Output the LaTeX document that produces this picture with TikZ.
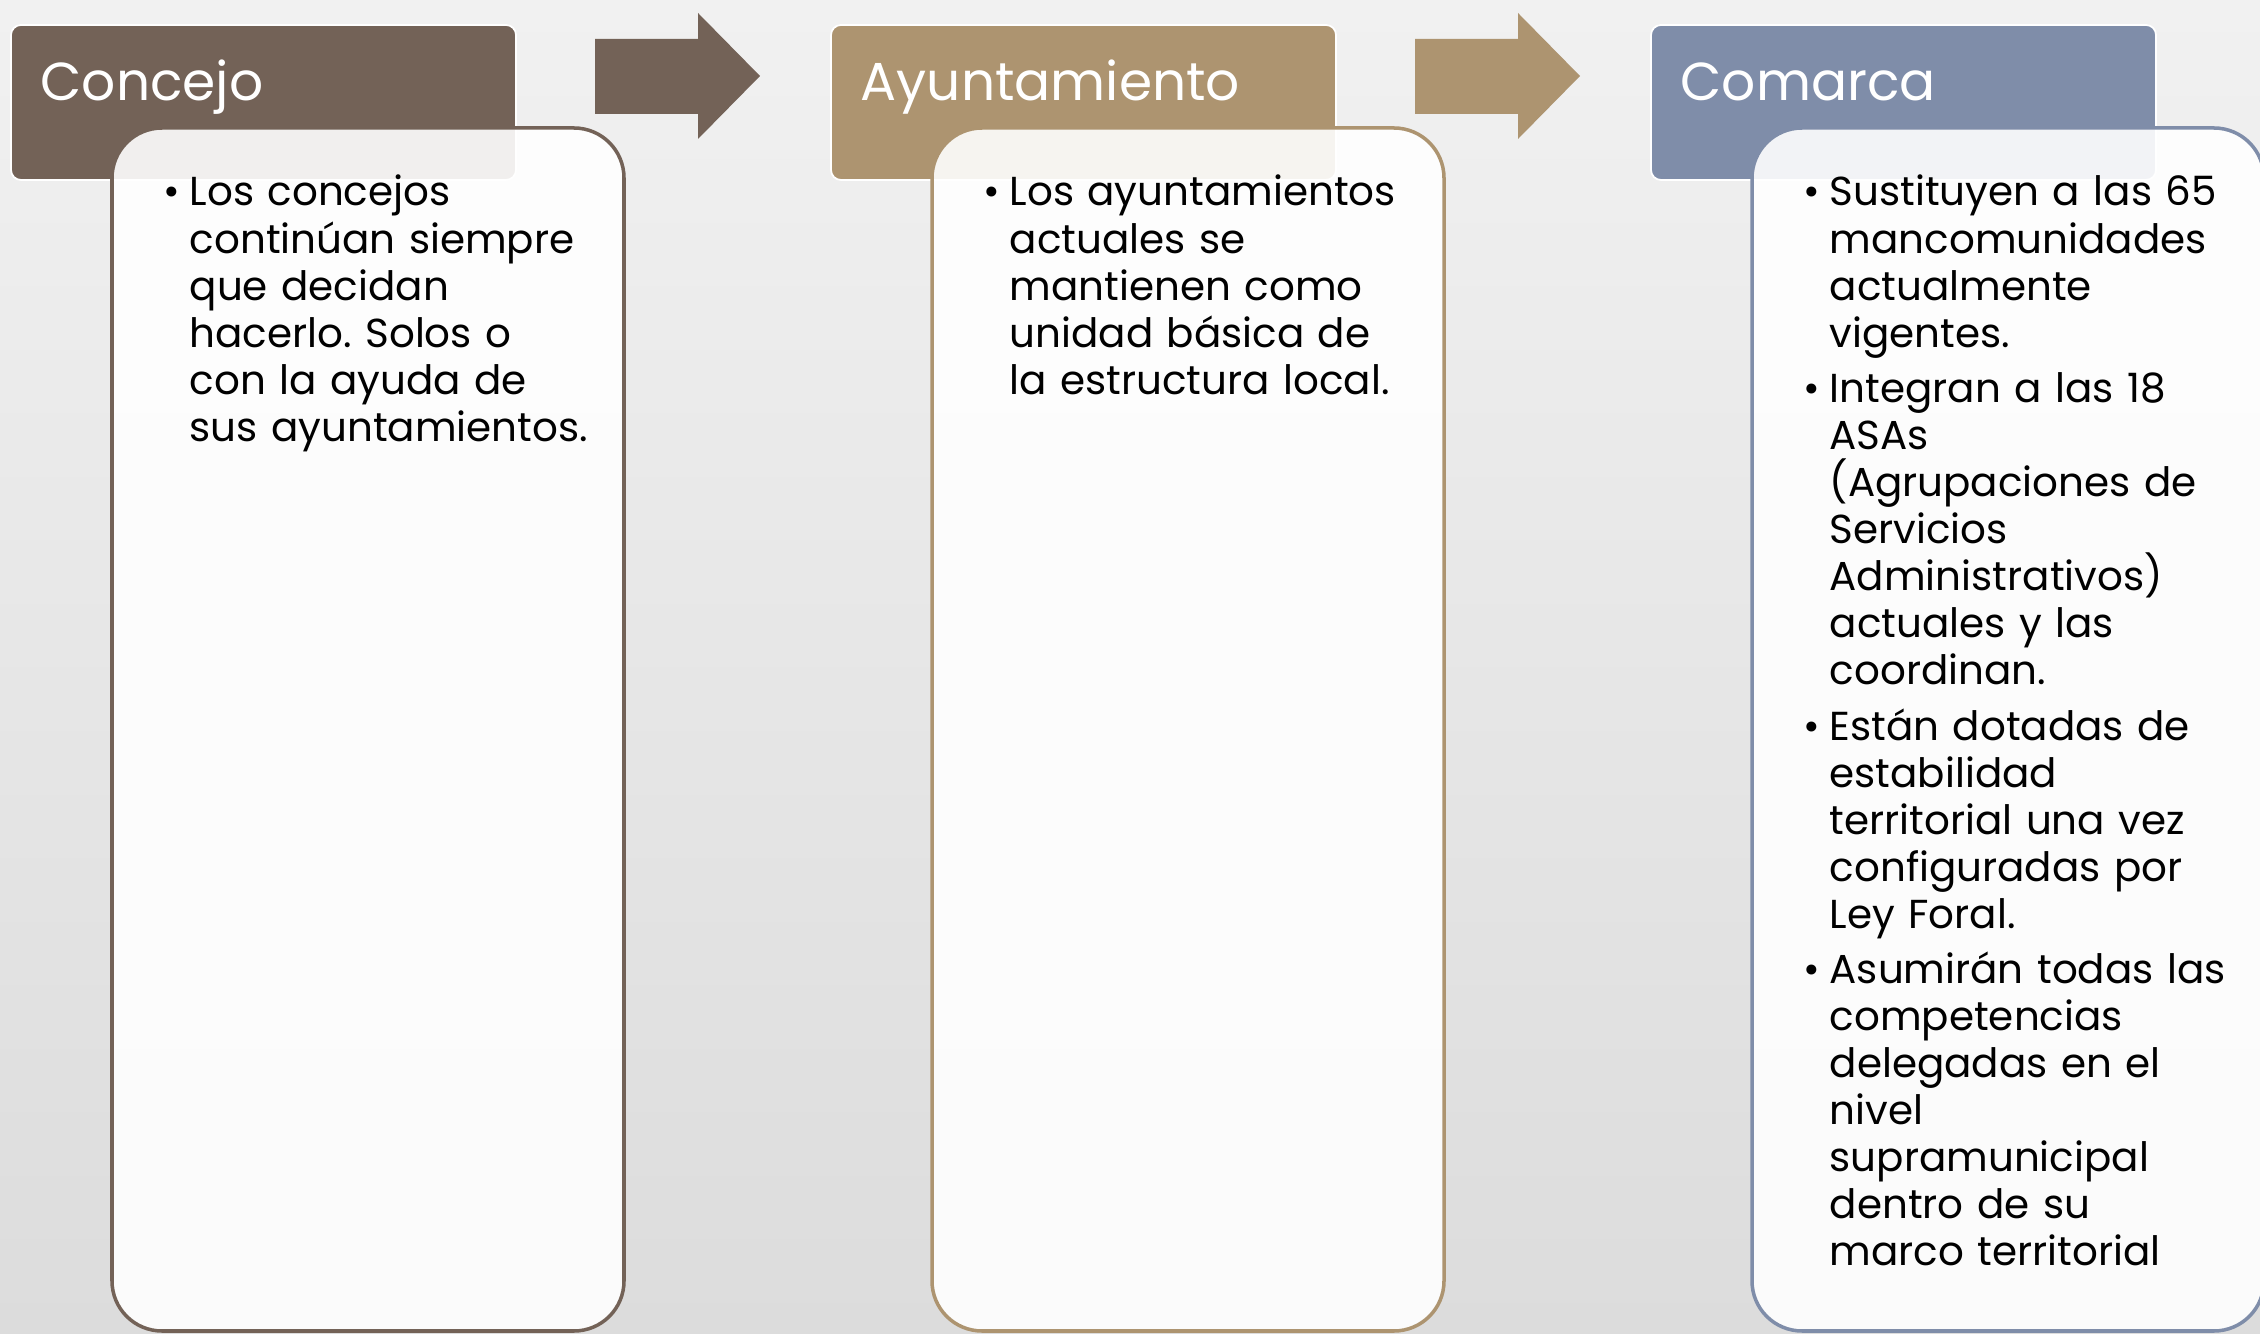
\documentclass[tikz,border=0pt]{standalone}
\usepackage{fontspec}
\setmainfont{Poppins}
\frenchspacing
\definecolor{concejocol}{HTML}{736257}
\definecolor{ayuntcol}{HTML}{AD9470}
\definecolor{comarcacol}{HTML}{7F8DA9}
\definecolor{bgtop}{HTML}{F1F1F1}
\definecolor{bgbot}{HTML}{DCDCDC}
\newcommand{\bul}{\leavevmode\llap{\makebox[7.5pt][l]{\textbullet}}}
\begin{document}
\begin{tikzpicture}[x=0.01cm,y=-0.01cm,
    header/.style={rounded corners=0.1cm, draw=white, line width=0.5pt},
    card/.style={rounded corners=0.5cm, fill=white, fill opacity=0.9, line width=1pt},
    headtext/.style={anchor=base west, inner sep=0pt, text=white, font=\fontsize{15.2}{18}\selectfont},
    bodytext/.style={anchor=base west, inner sep=0pt, text width=5cm, align=left, font=\fontsize{11.5}{13.37}\selectfont}]
    \useasboundingbox (0,0) rectangle (2260,1334);
    \fill[top color=bgtop, bottom color=bgbot] (0,0) rectangle (2260,1334);

    % arrows
    \fill[concejocol] (595,39) -- (698,39) -- (698,13) -- (760,76) -- (698,139) -- (698,114) -- (595,114) -- cycle;
    \fill[ayuntcol] (1415,39) -- (1518,39) -- (1518,13) -- (1580,76) -- (1518,139) -- (1518,114) -- (1415,114) -- cycle;

    % Concejo
    \fill[header, fill=concejocol] (11,25) rectangle (516,180);
    \draw[card, draw=concejocol] (112,128) rectangle (624,1331);
    \node[headtext] (hconcejo) at (40,101) {Concejo};
    \node[bodytext] (tconcejo) at (189,206) {\bul Los concejos\\continúan siempre\\que decidan\\hacerlo. Solos o\\con la ayuda de\\sus ayuntamientos.};

    % Ayuntamiento
    \fill[header, fill=ayuntcol] (831,25) rectangle (1336,180);
    \draw[card, draw=ayuntcol] (932,128) rectangle (1444,1331);
    \node[headtext] (hayunt) at (860,101) {Ayuntamiento};
    \node[bodytext] (tayunt) at (1009,206) {\bul Los ayuntamientos\\actuales se\\mantienen como\\unidad básica de\\la estructura local.};

    % Comarca
    \fill[header, fill=comarcacol] (1651,25) rectangle (2156,180);
    \draw[card, draw=comarcacol] (1752,128) rectangle (2264,1331);
    \node[headtext] (hcomarca) at (1680,101) {Comarca};
    \node[bodytext] (tcomarca) at (1829,206) {\bul Sustituyen a las 65\\mancomunidades\\actualmente\\vigentes.\\[2.4pt]%
        \bul Integran a las 18\\ASAs\\(Agrupaciones de\\Servicios\\Administrativos)\\actuales y las\\coordinan.\\[2.4pt]%
        \bul Están dotadas de\\estabilidad\\territorial una vez\\configuradas por\\Ley Foral.\\[2.4pt]%
        \bul Asumirán todas las\\competencias\\delegadas en el\\nivel\\supramunicipal\\dentro de su\\marco territorial};
\end{tikzpicture}
\end{document}
